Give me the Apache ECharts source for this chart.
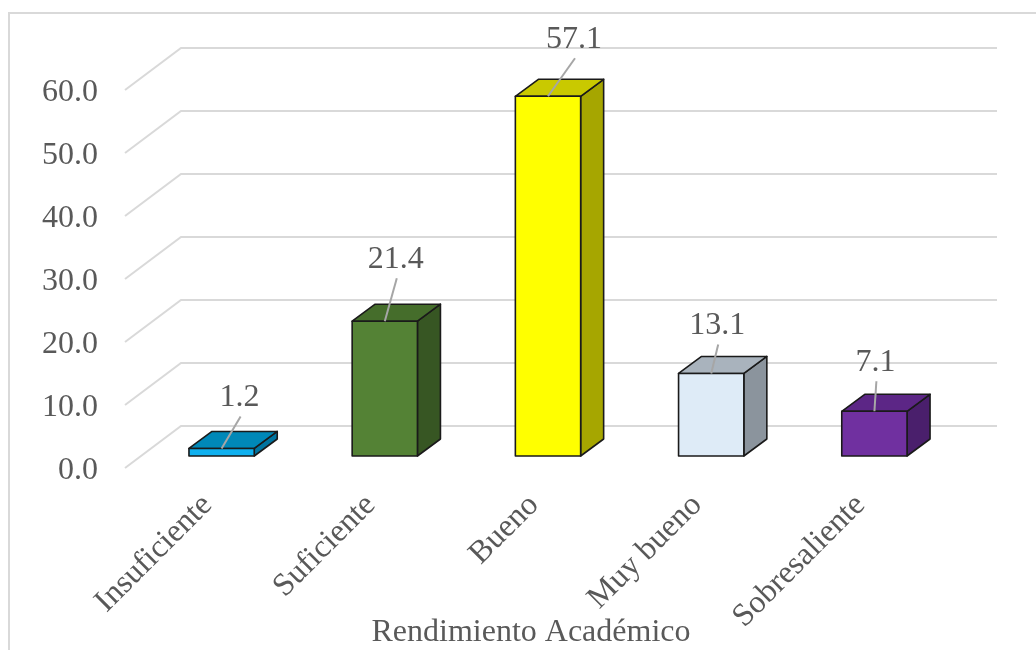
<!DOCTYPE html>
<html>
<head>
<meta charset="utf-8">
<script src="https://cdn.jsdelivr.net/npm/echarts@6/dist/echarts.min.js"></script>
<style>
  html, body { margin: 0; padding: 0; background: #ffffff; }
  #chart { width: 1036px; height: 650px; }
</style>
</head>
<body>
<div id="chart"></div>
<script>
// data
var categories = ["Insuficiente", "Suficiente", "Bueno", "Muy bueno", "Sobresaliente"];
var values = [1.2, 21.4, 57.1, 13.1, 7.1];
var yTicks = [0, 10, 20, 30, 40, 50, 60];
var axisTitle = "Rendimiento Académico";

// bar faces: front, top, side
var faces = [
  ["#0fb0ee", "#0088b8", "#0074a0"],
  ["#548235", "#456d2b", "#375623"],
  ["#ffff00", "#c9c900", "#a6a600"],
  ["#deebf7", "#a9b3bd", "#8b949d"],
  ["#7030a0", "#5c2686", "#4a1f6c"]
];
// where Excel put each data label, relative to the top front edge
var labelShift = [[18, -53], [11, -64], [26, -59], [6, -50], [1, -51]];

var FAMILY = '"Liberation Serif", "Times New Roman", serif';
var FONT = '32px ' + FAMILY;
var TEXT = "#595959";
var depthX = 23, depthY = -17;

var mychart = echarts.init(document.getElementById("chart"));

// back wall gridlines, bent to the front on the left, plus the value labels
function drawGrid(params, api) {
  var cs = params.coordSys;
  var t = api.value(1);
  var y = api.coord([0, t])[1];
  var left = cs.x, right = cs.x + cs.width;
  return {
    type: "group",
    children: [
      {
        type: "polyline",
        shape: {
          points: [[left - 15, y + 12], [left + 41, y - 30], [right + 41, y - 30]]
        },
        style: { stroke: "#d9d9d9", lineWidth: 2, fill: null }
      },
      {
        type: "text",
        style: {
          text: t.toFixed(1),
          x: left - 42,
          y: y + 15,
          font: FONT,
          fill: TEXT,
          align: "right",
          verticalAlign: "middle"
        }
      }
    ]
  };
}

function drawBar(params, api) {
  var i = api.value(0);
  var v = api.value(1);
  var top = api.coord([i, v]);
  var base = api.coord([i, 0]);
  var w = api.size([1, 0])[0] * 0.4;
  var l = top[0] - w / 2, r = top[0] + w / 2;
  var t = top[1], b = base[1];
  var c = faces[i];
  var edge = { stroke: "#1a1a1a", lineWidth: 1.6, lineJoin: "round" };
  var sh = labelShift[i];
  return {
    type: "group",
    children: [
      {
        type: "polygon",
        shape: { points: [[r, t], [r + depthX, t + depthY], [r + depthX, b + depthY], [r, b]] },
        style: Object.assign({ fill: c[2] }, edge)
      },
      {
        type: "polygon",
        shape: { points: [[l, t], [r, t], [r + depthX, t + depthY], [l + depthX, t + depthY]] },
        style: Object.assign({ fill: c[1] }, edge)
      },
      {
        type: "rect",
        shape: { x: l, y: t, width: w, height: b - t },
        style: Object.assign({ fill: c[0] }, edge)
      },
      {
        type: "line",
        shape: { x1: top[0] + sh[0] + 1, y1: t + sh[1] + 21, x2: top[0], y2: t },
        style: { stroke: "#a6a6a6", lineWidth: 2 }
      },
      {
        type: "text",
        style: {
          text: v.toFixed(1),
          x: top[0] + sh[0],
          y: t + sh[1] + 2,
          font: FONT,
          fill: TEXT,
          align: "center",
          verticalAlign: "middle"
        }
      }
    ]
  };
}

var option = {
  animation: false,
  backgroundColor: "#ffffff",
  graphic: [
    {
      type: "rect",
      shape: { x: 9, y: 13, width: 1060, height: 680 },
      style: { fill: null, stroke: "#d9d9d9", lineWidth: 2 },
      silent: true
    },
    {
      type: "text",
      x: 531,
      y: 633,
      style: {
        text: axisTitle,
        font: FONT,
        fill: TEXT,
        align: "center",
        verticalAlign: "middle"
      },
      silent: true
    }
  ],
  grid: { left: 140, right: 80, top: 78, bottom: 194, outerBoundsMode: "none", containLabel: false },
  xAxis: {
    type: "category",
    data: categories,
    axisLine: { show: false },
    axisTick: { show: false },
    axisLabel: {
      rotate: 45,
      margin: 30,
      interval: 0,
      color: TEXT,
      fontSize: 32,
      fontFamily: FAMILY,
      padding: [0, 20, 0, 0]
    }
  },
  yAxis: {
    type: "value",
    min: 0,
    max: 60,
    interval: 10,
    splitLine: { show: false },
    axisLine: { show: false },
    axisTick: { show: false },
    axisLabel: { show: false }
  },
  series: [
    {
      type: "custom",
      renderItem: drawGrid,
      data: yTicks.map(function (t) { return [0, t]; }),
      clip: false,
      silent: true,
      z: 1
    },
    {
      type: "custom",
      renderItem: drawBar,
      data: values.map(function (v, i) { return [i, v]; }),
      clip: false,
      silent: true,
      z: 2
    }
  ]
};
mychart.setOption(option, true);
</script>
</body>
</html>
